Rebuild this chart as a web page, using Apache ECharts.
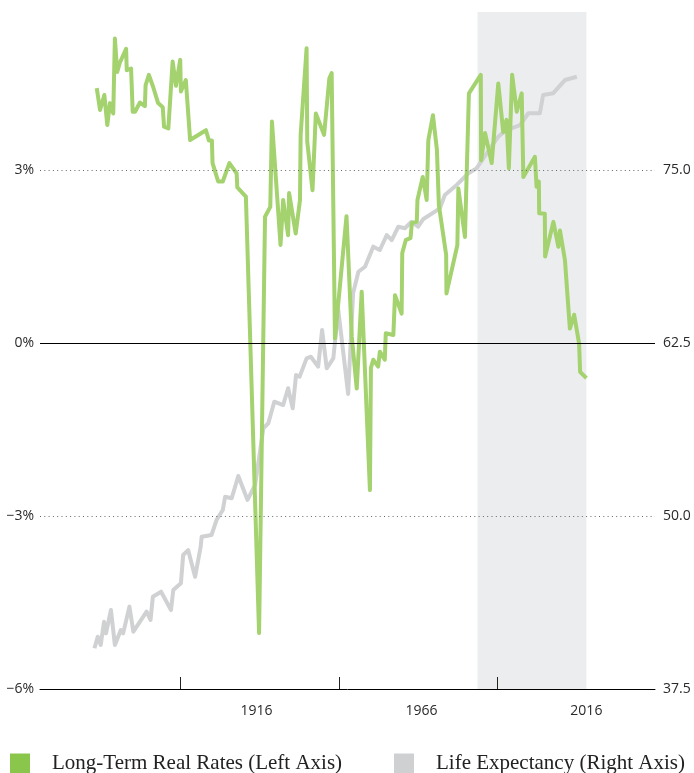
<!DOCTYPE html>
<html>
<head>
<meta charset="utf-8">
<script src="https://cdn.jsdelivr.net/npm/echarts@6/dist/echarts.min.js"></script>
<style>
html,body{margin:0;padding:0;background:#fff;}
#chart{width:694px;height:773px;}
</style>
</head>
<body>
<div id="chart"></div>
<script>
// Long-term real rates (%), left axis
const rateYears = [1867.6,1868.6,1869.9,1870.8,1871.6,1872.6,1872.9,1873.1,1873.8,1874.6,1876.5,1876.7,1878.0,1878.5,1879.2,1880.7,1882.2,1882.4,1883.4,1884.7,1886.2,1887.6,1888.0,1889.3,1890.6,1891.6,1892.9,1893.1,1894.6,1895.9,1900.7,1901.6,1902.5,1902.7,1904.4,1905.8,1907.8,1910.0,1910.2,1912.8,1916.8,1918.6,1920.2,1920.7,1923.3,1924.1,1925.6,1925.9,1927.9,1929.2,1929.4,1931.2,1931.4,1933.0,1934.0,1936.5,1938.1,1938.8,1939.8,1943.3,1944.9,1946.4,1947.9,1950.4,1950.7,1951.4,1952.9,1953.4,1954.9,1955.2,1957.5,1958.0,1960.0,1960.2,1961.3,1962.7,1963.1,1964.6,1964.8,1966.4,1967.6,1968.1,1969.5,1970.7,1971.3,1973.5,1973.6,1976.9,1977.2,1979.2,1980.4,1984.0,1984.1,1985.3,1987.3,1989.3,1990.8,1991.8,1992.5,1993.5,1994.9,1996.4,1996.9,2000.4,2000.9,2001.6,2001.7,2003.4,2003.5,2006.0,2007.5,2008.0,2009.5,2011.0,2012.3,2013.8,2014.1,2016.0];
const rateValues = [4.42,4.04,4.30,3.78,4.16,3.98,4.76,5.28,4.70,4.86,5.10,4.73,4.76,4.01,4.01,4.17,4.11,4.47,4.65,4.44,4.16,4.09,3.75,3.72,4.88,4.46,4.91,4.36,4.56,3.52,3.69,3.51,3.51,3.12,2.80,2.80,3.12,2.94,2.70,2.54,-5.03,2.19,2.36,3.84,1.70,2.48,1.87,2.60,1.90,2.48,3.61,5.11,3.49,2.65,3.98,3.61,4.59,4.68,0.08,2.20,0.11,-0.79,0.89,-2.55,-0.43,-0.29,-0.41,-0.15,-0.29,0.17,0.14,0.83,0.51,1.56,1.79,1.82,2.08,2.10,2.48,2.88,2.48,3.52,3.95,3.35,2.39,1.53,0.86,1.70,2.68,1.84,4.33,4.65,3.17,3.64,3.12,4.50,3.66,3.87,3.03,4.65,4.01,4.33,2.88,3.23,2.71,2.80,2.25,2.24,1.50,2.10,1.67,1.95,1.44,0.25,0.49,-0.01,-0.50,-0.61];

// Life expectancy (years), right axis
const lifeYears = [1866.9,1867.9,1868.8,1869.8,1870.4,1871.9,1873.1,1874.9,1875.6,1877.5,1878.7,1882.7,1883.9,1884.6,1887.1,1890.1,1890.8,1893.1,1893.8,1895.3,1897.4,1899.1,1899.4,1902.4,1903.9,1905.8,1906.5,1908.5,1910.5,1913.3,1915.6,1918.1,1919.6,1921.4,1924.1,1925.6,1927.0,1928.0,1929.1,1931.2,1932.5,1934.7,1935.9,1937.3,1939.3,1940.8,1943.8,1945.3,1946.9,1948.9,1951.4,1953.4,1955.5,1957.0,1959.0,1961.0,1963.0,1965.0,1966.5,1971.6,1973.1,1976.7,1980.2,1982.7,1985.8,1989.3,1991.8,1995.9,1998.4,2001.9,2002.9,2005.9,2009.5,2013.1];
const lifeValues = [40.44,41.28,40.68,42.36,41.52,43.21,40.68,41.76,41.52,43.45,41.64,43.09,42.49,44.17,44.53,43.21,44.65,45.14,47.18,47.54,45.61,47.78,48.50,48.63,49.71,50.43,51.39,51.28,52.89,51.16,52.24,56.34,56.70,58.26,58.02,59.23,57.78,60.19,60.07,61.39,61.51,60.79,63.44,60.67,61.39,64.88,58.82,66.09,67.65,68.01,69.46,69.22,70.30,69.94,70.90,70.79,71.26,70.90,71.44,72.23,73.19,73.92,74.76,75.12,76.21,77.41,77.89,78.25,79.10,79.10,80.42,80.54,81.50,81.74];

// Axis ticks and labels
const xLabelYears = [1916, 1966, 2016];
const xTickYears = [1893, 1941, 1989];
const leftTicks = [-6, -3, 0, 3];
const rightTicks = [37.5, 50, 62.5, 75];
const shadeRange = [1983, 2016];

const rateName = 'Long-Term Real Rates (Left Axis)';
const lifeName = 'Life Expectancy (Right Axis)';

const rateData = rateYears.map((y, i) => [y, rateValues[i]]);
const lifeData = lifeYears.map((y, i) => [y, lifeValues[i]]);

const leftMin = -6, leftMax = 5.74;
const rightMin = 37.5, rightMax = 62.5 + leftMax * 12.5 / 3;

const labelFont = {fontFamily: 'Open Sans', fontSize: 14, color: '#2a2a2a'};
const legendText = {fontFamily: 'Liberation Serif', fontSize: 21, color: '#222', padding: [0, 0, 0, 17]};

const chart = echarts.init(document.getElementById('chart'), null, {renderer: 'canvas'});
chart.setOption({
  animation: false,
  backgroundColor: '#ffffff',
  grid: {left: 40, right: 39, top: 12, bottom: 84, containLabel: false},
  legend: [
    {
      left: 10, top: 753, padding: 0, itemWidth: 20, itemHeight: 20, icon: 'rect',
      data: [{name: rateName, itemStyle: {color: '#8bc64c'}}],
      textStyle: legendText, selectedMode: false
    },
    {
      left: 394, top: 753, padding: 0, itemWidth: 20, itemHeight: 20, icon: 'rect',
      data: [{name: lifeName, itemStyle: {color: '#cfd0d2'}}],
      textStyle: legendText, selectedMode: false
    }
  ],
  xAxis: {
    type: 'value', min: 1850.4, max: 2036.8, z: 10,
    axisLine: {show: true, onZero: false, lineStyle: {color: '#000', width: 1}},
    axisTick: {show: true, inside: true, length: 12, customValues: xTickYears, lineStyle: {color: '#222', width: 1}},
    axisLabel: {show: true, customValues: xLabelYears, margin: 15, formatter: v => String(Math.round(v)), ...labelFont},
    splitLine: {show: false}
  },
  yAxis: [
    {
      type: 'value', position: 'left', min: leftMin, max: leftMax,
      axisLine: {show: false}, axisTick: {show: false},
      axisLabel: {show: true, customValues: leftTicks, margin: 6, formatter: v => (v < 0 ? '\u2212' + Math.abs(v) : String(v)) + '%', ...labelFont},
      splitLine: {show: false}
    },
    {
      type: 'value', position: 'right', min: rightMin, max: rightMax,
      axisLine: {show: false}, axisTick: {show: false},
      axisLabel: {show: true, customValues: rightTicks, margin: 8, formatter: v => v.toFixed(1), ...labelFont},
      splitLine: {show: false}
    }
  ],
  series: [
    {
      name: 'bg', type: 'line', yAxisIndex: 0, data: rateData, silent: true, z: 1,
      showSymbol: false, lineStyle: {opacity: 0}, itemStyle: {opacity: 0},
      markArea: {silent: true, itemStyle: {color: '#ecedef'}, data: [[{xAxis: shadeRange[0]}, {xAxis: shadeRange[1]}]]},
      markLine: {
        silent: true, symbol: 'none', label: {show: false}, animation: false,
        data: [
          {yAxis: leftTicks[3], lineStyle: {color: '#666', width: 1, type: [1, 3.3]}},
          {yAxis: leftTicks[1], lineStyle: {color: '#666', width: 1, type: [1, 3.3]}},
          {yAxis: leftTicks[2], lineStyle: {color: '#000', width: 1, type: 'solid'}}
        ]
      }
    },
    {
      name: lifeName, type: 'line', yAxisIndex: 1, data: lifeData, z: 2,
      showSymbol: false, symbol: 'none',
      lineStyle: {color: '#d0d1d3', width: 4, join: 'round'}, itemStyle: {color: '#cfd0d2'}
    },
    {
      name: rateName, type: 'line', yAxisIndex: 0, data: rateData, z: 3,
      showSymbol: false, symbol: 'none',
      lineStyle: {color: '#a3d26f', width: 4, join: 'round'}, itemStyle: {color: '#8bc64c'}
    }
  ]
});
</script>
</body>
</html>
